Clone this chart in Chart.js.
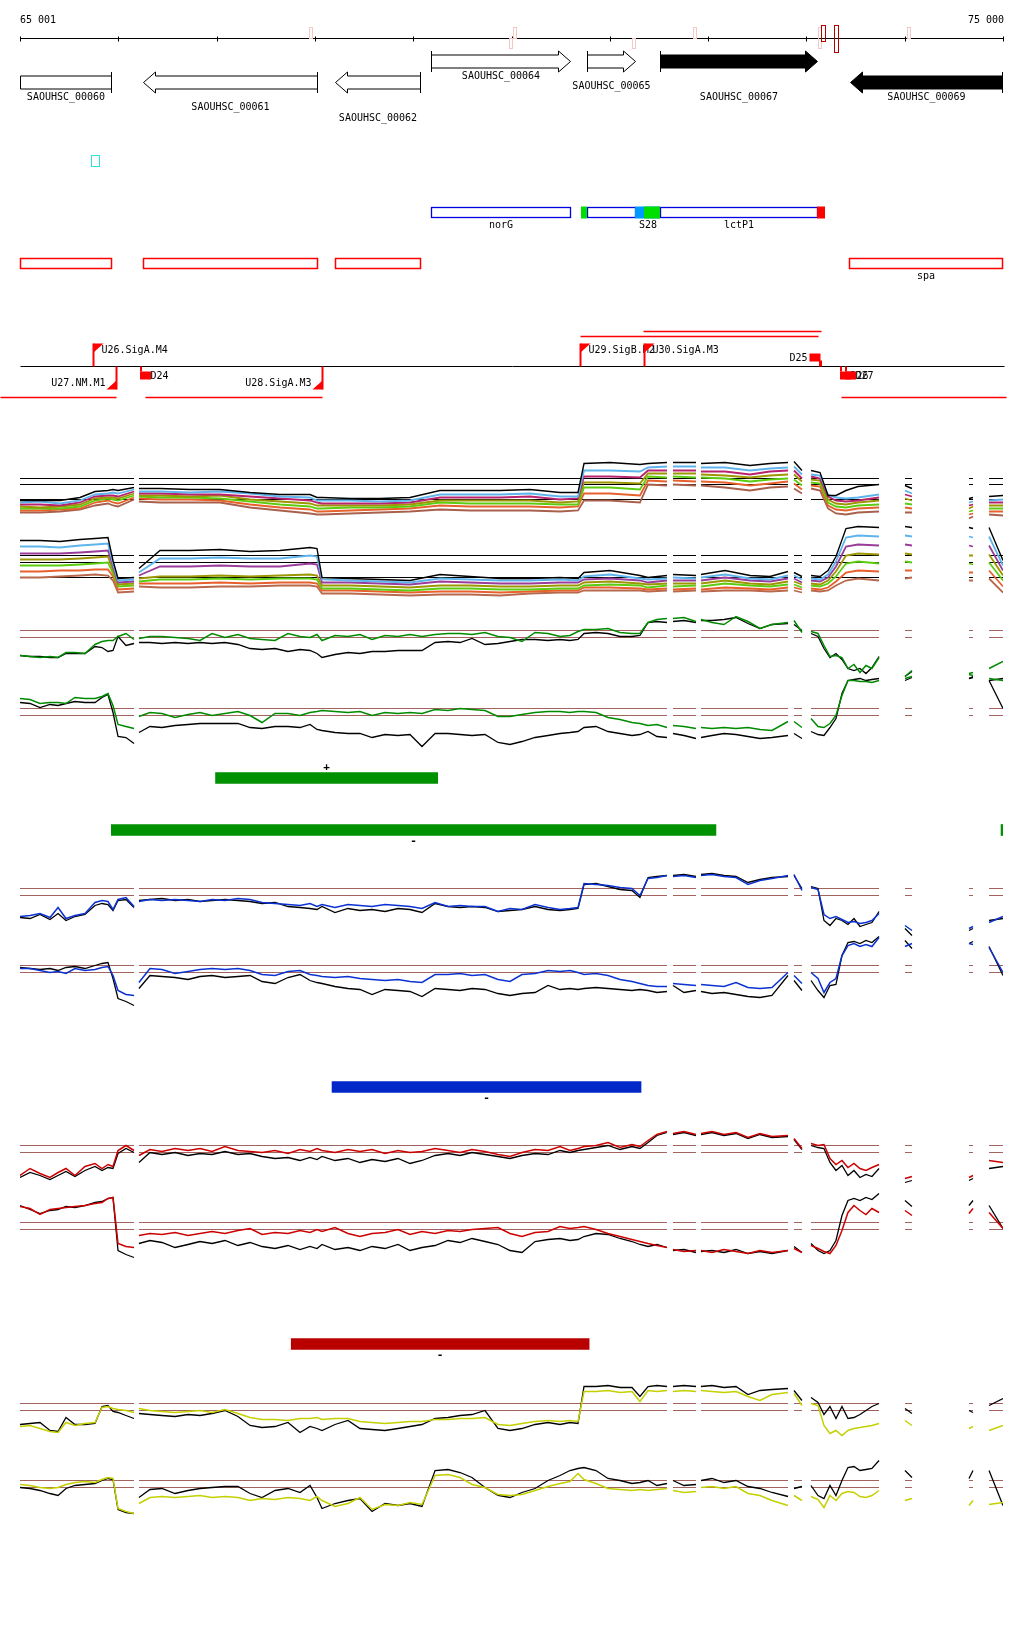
<!DOCTYPE html>
<html>
<head>
<meta charset="utf-8">
<script src="https://cdn.jsdelivr.net/npm/chart.js@4.4.1/dist/chart.umd.min.js"></script>
<style>
  body { margin: 0; background: #fff; }
  #page { position: relative; width: 1024px; height: 1640px; overflow: hidden; }
  #page canvas { position: absolute; left: 0; }
</style>
</head>
<body>
<div id="page"></div>
<script>
// ---- region and axis ----
const regionStart = 65001;
const regionEnd = 75000;
const axisTicks = [65001, 66001, 67001, 68001, 69001, 70001, 71001, 72001, 73001, 74001, 75000];
const axisLabels = ['65 001', '75 000'];

// ---- genes ----
const geneNames = ['SAOUHSC_00060', 'SAOUHSC_00061', 'SAOUHSC_00062', 'SAOUHSC_00064', 'SAOUHSC_00065', 'SAOUHSC_00067', 'SAOUHSC_00069'];
const geneStart = [64600, 66252, 68205, 69182, 70768, 71511, 73444];
const geneEnd = [65927, 68022, 69070, 70596, 71257, 73108, 74990];
const geneStrand = ['-', '-', '-', '+', '+', '+', '-'];
const geneSolid = [false, false, false, false, false, true, true];

// small marks on the coordinate axis
const axisMarkPos = [67951, 69985, 70026, 71236, 71857, 73128, 74034];
const axisMarkSide = ['up', 'down', 'up', 'down', 'up', 'both', 'up'];
const axisHitPos = [73169, 73301];

const motifStart = [65723];
const motifEnd = [65804];

// blue feature row
const featBoxStart = [69182, 70768, 71511];
const featBoxEnd = [70596, 71257, 73108];
const featBoxName = ['norG', '', 'lctP1'];
const featMarkStart = [70710, 71257, 71348, 73108];
const featMarkEnd = [70768, 71511, 71511, 73190];
const featMarkColor = ['#00dd00', '#0099ff', '#00dd00', '#ff0000'];
const featMarkName = ['', 'S28', '', ''];

// red feature row
const redBoxStart = [64600, 66252, 68205, 73434];
const redBoxEnd = [65927, 68022, 69070, 74990];
const redBoxName = ['', '', '', 'spa'];

// promoters / terminators
const tssNames = ['U26.SigA.M4', 'U27.NM.M1', 'D24', 'U28.SigA.M3', 'U29.SigB.M2', 'U30.SigA.M3', 'D25', 'D26', 'D27'];
const tssPos = [65743, 65978, 66222, 68073, 70697, 71348, 73139, 73342, 73393];
const tssStrand = ['+', '-', '-', '-', '+', '+', '+', '-', '-'];

// transcription units
const unitStart = [64798, 66272, 73352, 70697, 71338];
const unitEnd = [65978, 68073, 75031, 73118, 73149];
const unitStrand = ['-', '-', '-', '+', '+'];

// ---- segmentation blocks ----
const greenPlusBlocks = [[66990, 69250]];
const greenMinusBlocks = [[65930, 72080], [74980, 75000]];
const blueMinusBlocks = [[68175, 71318]];
const redMinusBlocks = [[67760, 70790]];

// ---- probe positions and breaks ----
const gaps = [66186, 71613, 71903, 72844, 72996, 73850, 74359, 74766];
const positions = [65001, 65204, 65408, 65611, 65764, 65896, 65947, 65998, 66161,
  66211, 66425, 66730, 67035, 67341, 67646, 67951, 68022, 68073, 68358, 68663, 68968, 69273, 69578, 69884, 70189, 70494, 70677, 70738, 71002, 71307, 71389, 71582,
  71643, 71877,
  71928, 72172, 72427, 72630, 72813,
  72874, 72955,
  73047, 73139, 73220, 73301, 73403, 73525, 73739,
  74003, 74074,
  74654, 74695,
  74858, 75000];
const densePositions = [65001, 65103, 65204, 65306, 65388, 65469, 65560, 65662, 65764, 65835, 65896, 65947, 65998, 66079, 66161,
  66211, 66323, 66445, 66578, 66710, 66832, 66954, 67086, 67218, 67341, 67463, 67595, 67727, 67849, 67951, 68022, 68073, 68205, 68337, 68459,
  68582, 68714, 68846, 68968, 69090, 69223, 69355, 69477, 69599, 69731, 69863, 69985, 70107, 70240, 70372, 70494, 70595, 70677, 70738, 70860,
  70982, 71104, 71226, 71307, 71389, 71480, 71582,
  71643, 71755, 71877,
  71928, 72040, 72162, 72284, 72406, 72528, 72650, 72813,
  72874, 72955,
  73047, 73118, 73179, 73240, 73301, 73362, 73423, 73484, 73545, 73606, 73667, 73739,
  74003, 74074,
  74654, 74695,
  74858, 75000];

// ---- all conditions, + strand ----
const mpBlack = [9.0,9.0,9.0,9.3,9.9,10.0,10.1,10.0,10.3, 10.2,10.2,10.1,10.1,9.8,9.6,9.6,9.3,9.3,9.2,9.2,9.3,10.0,10.0,10.0,10.1,9.8,9.8,12.7,12.8,12.6,12.7,12.8, 12.8,12.8, 12.7,12.8,12.5,12.7,12.8, 12.9,12.0, 12.0,11.8,9.5,9.5,10.0,10.4,10.6, 10.5,10.2, 9.2,9.3, 9.4,9.5];
const mpBlue = [8.8,8.9,8.7,9.0,9.6,9.7,9.8,9.7,10.1, 9.9,9.9,9.8,9.9,9.7,9.4,9.3,9.0,9.0,9.0,8.9,9.0,9.6,9.6,9.6,9.7,9.4,9.4,12.0,12.0,11.9,12.3,12.4, 12.4,12.4, 12.3,12.3,12.0,12.2,12.3, 12.4,11.6, 11.6,11.5,9.6,9.3,9.2,9.3,9.6, 10.0,9.7, 8.8,8.9, 9.0,9.1];
const mpMagenta = [8.6,8.6,8.5,8.8,9.4,9.5,9.5,9.4,9.9, 9.7,9.7,9.6,9.6,9.4,9.2,9.0,8.8,8.7,8.7,8.7,8.8,9.3,9.3,9.3,9.4,9.1,9.2,11.4,11.4,11.3,12.0,12.0, 12.0,12.0, 11.9,11.9,11.6,11.9,12.0, 12.0,11.2, 11.4,11.2,9.4,9.0,8.9,9.0,9.3, 9.6,9.4, 8.5,8.6, 8.8,8.8];
const mpOlive = [8.4,8.3,8.4,8.6,9.2,9.3,9.3,9.2,9.7, 9.5,9.5,9.4,9.5,9.1,8.9,8.7,8.5,8.5,8.5,8.5,8.6,9.0,9.0,9.0,9.0,8.8,8.9,10.8,10.8,10.7,11.7,11.7, 11.7,11.7, 11.6,11.5,11.3,11.5,11.6, 11.6,10.9, 11.1,11.0,9.1,8.7,8.6,8.8,9.0, 9.2,9.0, 8.2,8.4, 8.5,8.5];
const mpGreen = [8.2,8.2,8.2,8.4,9.0,9.2,9.1,9.0,9.5, 9.4,9.3,9.3,9.2,8.9,8.6,8.4,8.2,8.2,8.3,8.3,8.4,8.8,8.7,8.7,8.7,8.6,8.6,10.3,10.3,10.1,11.4,11.3, 11.4,11.3, 11.3,11.2,10.9,11.1,11.2, 11.1,10.5, 10.8,10.7,8.8,8.4,8.3,8.5,8.6, 8.7,8.6, 7.9,8.0, 8.2,8.2];
const mpOrange = [8.0,8.0,8.1,8.2,8.8,9.0,8.8,8.7,9.3, 9.2,9.1,9.1,9.0,8.6,8.3,8.1,7.9,7.9,8.0,8.1,8.2,8.5,8.4,8.4,8.4,8.3,8.4,9.7,9.7,9.5,11.0,10.9, 11.0,10.9, 10.9,10.8,10.5,10.7,10.9, 10.7,10.1, 10.5,10.4,8.5,8.1,8.0,8.2,8.3, 8.3,8.2, 7.6,7.7, 7.9,7.9];
const mpBrown = [7.8,7.8,7.9,8.1,8.5,8.7,8.5,8.4,9.1, 8.9,8.8,8.8,8.8,8.3,8.0,7.7,7.6,7.6,7.7,7.8,7.9,8.1,8.0,8.0,8.0,7.9,8.0,9.0,9.0,8.8,10.6,10.5, 10.6,10.5, 10.5,10.3,10.0,10.3,10.4, 10.2,9.7, 10.2,10.0,8.2,7.7,7.6,7.8,7.9, 7.8,7.8, 7.2,7.4, 7.6,7.5];
const multiPlusRefs = [11.2, 10.6, 9.1];

// ---- all conditions, - strand ----
const mmBlack = [11.0,11.0,10.9,11.1,11.2,11.3,9.0,7.2,7.3, 8.2,10.0,10.0,10.1,9.9,10.0,10.3,10.2,7.3,7.2,7.1,7.0,7.6,7.4,7.2,7.2,7.3,7.2,7.8,8.0,7.5,7.3,7.5, 7.6,7.5, 7.6,8.0,7.5,7.4,7.9, 7.8,7.4, 7.5,7.4,8.0,9.4,12.2,12.4,12.3, 12.4,12.3, 12.3,12.2, 12.3,9.0];
const mmBlue = [10.4,10.4,10.3,10.5,10.6,10.7,8.7,7.0,7.1, 7.8,9.2,9.2,9.3,9.2,9.2,9.5,9.4,7.1,7.0,6.9,6.8,7.2,7.1,7.0,7.0,7.1,7.0,7.4,7.6,7.2,7.1,7.2, 7.3,7.2, 7.3,7.6,7.2,7.1,7.5, 7.5,7.1, 7.2,7.1,7.6,8.9,11.3,11.5,11.4, 11.5,11.4, 11.4,11.3, 11.4,8.5];
const mmPurple = [9.7,9.7,9.7,9.8,9.9,10.0,8.4,6.8,6.9, 7.5,8.4,8.4,8.5,8.4,8.4,8.7,8.6,6.8,6.8,6.7,6.6,6.9,6.8,6.7,6.7,6.8,6.8,7.1,7.2,7.0,6.8,7.0, 7.0,7.0, 7.0,7.3,7.0,6.9,7.2, 7.2,6.8, 7.0,6.9,7.3,8.4,10.4,10.6,10.5, 10.6,10.5, 10.5,10.4, 10.5,8.0];
const mmOlive = [9.1,9.1,9.1,9.2,9.3,9.4,8.0,6.6,6.7, 7.2,7.4,7.4,7.5,7.4,7.5,7.6,7.5,6.5,6.5,6.4,6.3,6.5,6.5,6.4,6.4,6.5,6.5,6.8,6.9,6.7,6.6,6.7, 6.7,6.7, 6.7,7.0,6.7,6.6,6.9, 6.9,6.6, 6.7,6.6,7.0,7.9,9.5,9.7,9.6, 9.7,9.6, 9.5,9.5, 9.6,7.5];
const mmGreen = [8.5,8.5,8.5,8.6,8.7,8.8,7.7,6.4,6.5, 6.9,7.1,7.1,7.2,7.1,7.2,7.2,7.1,6.2,6.2,6.1,6.0,6.2,6.2,6.1,6.1,6.2,6.2,6.5,6.6,6.5,6.3,6.5, 6.4,6.5, 6.4,6.7,6.5,6.4,6.6, 6.6,6.3, 6.5,6.4,6.7,7.4,8.7,8.9,8.7, 8.9,8.8, 8.7,8.6, 8.8,7.0];
const mmOrange = [7.9,7.9,8.0,8.0,8.1,8.1,7.4,6.1,6.2, 6.7,6.7,6.7,6.8,6.7,6.8,6.8,6.7,6.0,6.0,5.9,5.8,5.9,5.9,5.8,5.9,6.0,6.0,6.3,6.3,6.2,6.1,6.2, 6.1,6.2, 6.1,6.3,6.2,6.1,6.3, 6.3,6.1, 6.2,6.1,6.3,6.9,7.8,8.0,7.9, 8.0,8.0, 7.8,7.8, 8.0,6.4];
const mmBrown = [7.3,7.3,7.4,7.5,7.6,7.5,7.0,5.8,5.9, 6.4,6.3,6.3,6.4,6.4,6.5,6.5,6.4,5.7,5.7,5.6,5.5,5.6,5.6,5.5,5.7,5.8,5.8,6.0,6.0,6.0,5.9,6.0, 5.9,6.0, 5.9,6.0,6.0,5.9,6.0, 6.0,5.8, 6.0,5.9,6.0,6.5,7.0,7.2,7.0, 7.2,7.3, 7.0,7.0, 7.2,5.8];
const multiMinusRefs = [9.5, 8.8, 7.3];

// ---- single conditions vs. reference (dense probes) ----
const greenPlus = [7.5,7.4,7.3,7.4,7.3,7.8,7.8,7.7,8.6,8.9,9.0,9.0,9.4,9.7,9.1,
  9.2,9.4,9.4,9.3,9.2,9.0,9.7,9.3,9.6,9.2,9.1,9.0,9.7,9.4,9.3,9.6,9.0,9.5,9.4,9.6,9.1,9.5,9.4,9.6,9.4,9.6,9.7,9.7,9.6,9.8,9.4,9.3,8.9,9.8,9.7,9.4,9.5,9.9,10.1,10.1,10.2,9.8,9.7,9.7,10.8,11.1,11.2,
  11.2,11.3,10.9, 11.1,10.8,10.6,11.4,10.9,10.2,10.6,10.8, 11.0,9.8,
  9.9,9.7,8.5,7.4,7.5,7.3,6.2,6.6,5.8,6.5,6.2,7.3, 5.4,6.0, 5.7,5.8, 6.2,6.9];
const greenPlusCtrl = [7.5,7.4,7.4,7.3,7.3,7.7,7.7,7.7,8.4,8.3,7.9,8.0,9.4,8.5,8.7,
  8.8,8.8,8.7,8.8,8.7,8.8,8.7,8.8,8.6,8.2,8.1,8.2,7.9,8.1,8.0,7.7,7.3,7.6,7.8,7.7,7.9,7.9,8.0,8.0,8.0,8.8,8.9,8.8,9.2,8.6,8.7,8.9,9.1,9.1,9.0,9.1,9.0,9.1,9.7,9.8,9.7,9.4,9.4,9.5,10.8,10.9,10.8,
  10.9,11.0,10.8, 11.0,11.0,11.1,11.3,10.7,10.2,10.6,10.7, 10.6,10.0,
  9.7,9.4,8.2,7.3,7.7,7.1,6.2,6.0,6.2,5.7,6.3,7.4, 5.4,5.9, 5.2,5.4, 5.0,5.2];
const greenMinus = [10.2,10.1,9.7,9.8,9.8,9.7,10.3,10.2,10.2,10.4,10.7,9.5,7.6,7.4,7.2,
  8.4,8.8,8.7,8.3,8.6,8.8,8.5,8.7,8.9,8.5,7.8,8.7,8.7,8.5,8.8,8.9,9.0,8.9,8.8,8.9,8.5,8.8,8.7,8.8,8.7,9.1,9.0,9.2,9.1,9.0,8.4,8.4,8.6,8.8,8.9,8.9,8.8,8.9,8.9,8.8,8.3,8.1,7.8,7.7,7.5,7.6,7.3,
  7.5,7.4,7.2, 7.3,7.2,7.3,7.2,7.3,7.1,7.0,7.9, 7.9,7.3,
  8.2,7.4,7.3,7.7,8.5,10.5,12.0,12.0,11.9,11.9,11.8,12.0, 12.2,12.4, 12.6,12.5, 12.2,12.0];
const greenMinusCtrl = [9.8,9.7,9.3,9.6,9.5,9.7,9.9,9.8,9.8,10.3,10.6,8.8,6.4,6.3,5.7,
  6.8,7.4,7.3,7.5,7.6,7.7,7.7,7.7,7.7,7.3,7.2,7.4,7.4,7.3,7.6,7.1,7.0,6.8,6.7,6.7,6.3,6.6,6.5,6.6,5.4,6.7,6.7,6.6,6.5,6.6,5.8,5.6,5.9,6.3,6.5,6.7,6.8,6.9,7.3,7.4,6.9,6.7,6.5,6.6,6.9,6.4,6.3,
  6.7,6.5,6.2, 6.3,6.5,6.7,6.6,6.4,6.2,6.3,6.5, 6.7,6.2,
  6.9,6.6,6.5,7.3,8.2,10.7,12.0,12.1,12.2,12.0,12.1,12.2, 12.0,12.3, 12.2,12.3, 12.0,9.2];
const greenPlusRefs = [10.0, 9.3];
const greenMinusRefs = [9.2, 8.5];

const bluePlus = [4.4,4.5,4.7,4.3,5.3,4.2,4.5,4.7,5.8,6.0,5.9,5.1,6.1,6.3,5.4,
  5.9,6.1,6.0,6.1,6.0,5.9,6.1,6.0,6.2,6.1,5.8,5.7,5.6,5.5,5.7,5.4,5.6,5.3,5.6,5.5,5.4,5.6,5.5,5.4,5.2,5.8,5.4,5.5,5.4,5.4,4.9,5.2,5.1,5.6,5.3,5.1,5.2,5.3,7.7,7.6,7.5,7.3,7.2,6.5,8.2,8.3,8.5,
  8.4,8.5,8.3, 8.5,8.6,8.4,8.3,7.6,8.0,8.2,8.5, 8.6,7.0,
  7.3,7.1,4.6,4.2,4.4,4.1,3.8,3.9,3.7,3.8,4.0,4.7, 3.5,3.0, 3.2,3.4, 3.8,4.4];
const bluePlusCtrl = [4.3,4.2,4.6,4.1,4.7,4.0,4.4,4.6,5.5,5.7,5.6,5.0,6.0,6.1,5.3,
  6.0,6.1,6.2,6.0,6.1,5.9,6.0,6.1,6.0,5.9,5.7,5.8,5.4,5.3,5.2,5.1,5.4,4.8,5.2,5.0,5.1,4.9,5.2,5.1,4.8,5.7,5.4,5.3,5.4,5.3,4.9,5.0,5.1,5.4,5.1,5.0,5.1,5.2,7.6,7.7,7.4,7.1,7.0,6.3,8.3,8.4,8.5,
  8.5,8.6,8.4, 8.6,8.7,8.5,8.4,7.8,8.1,8.3,8.4, 8.5,7.2,
  7.4,7.2,4.0,3.5,4.2,4.0,3.6,4.2,3.4,3.6,3.8,4.9, 3.2,2.5, 3.0,3.2, 4.0,4.2];
const blueMinus = [7.2,7.2,7.0,6.8,6.9,6.7,7.2,7.0,7.1,7.3,7.4,6.5,5.0,4.6,4.5,
  5.8,7.2,7.1,6.7,6.9,7.1,7.2,7.1,7.2,7.0,6.6,6.5,6.9,7.0,6.6,6.5,6.4,6.3,6.4,6.2,6.1,6.0,6.1,5.9,5.8,6.6,6.6,6.7,6.5,6.6,6.1,5.9,6.6,6.7,7.0,6.9,7.0,6.8,6.6,6.7,6.5,6.1,5.9,5.7,5.5,5.4,5.4,
  5.7,5.6,5.5, 5.6,5.5,5.4,5.8,5.3,5.2,5.3,6.8, 6.5,5.7,
  6.8,6.2,4.8,5.8,6.2,8.5,9.5,9.7,9.4,9.6,9.4,10.3, 9.4,9.7, 9.7,9.6, 9.3,6.8];
const blueMinusCtrl = [7.3,7.2,7.1,7.2,7.0,7.3,7.4,7.2,7.5,7.7,7.8,6.2,4.2,3.9,3.5,
  5.2,6.5,6.4,6.3,6.1,6.4,6.5,6.3,6.4,6.5,5.9,5.7,6.3,6.6,6.0,5.8,5.7,5.4,5.2,5.1,4.6,5.1,5.0,4.9,4.4,5.2,5.1,5.0,5.2,5.1,4.7,4.5,4.7,4.8,5.5,5.1,5.2,5.1,5.2,5.3,5.2,5.1,5.0,5.1,5.0,4.8,4.9,
  5.5,4.8,5.0, 4.9,4.7,4.8,4.6,4.4,4.3,4.5,6.5, 6.0,5.0,
  6.0,5.0,4.3,5.5,5.6,8.5,9.8,9.9,9.7,10.0,9.8,10.4, 10.0,9.2, 9.7,9.9, 9.4,6.5];
const bluePlusRefs = [7.2, 6.5];
const blueMinusRefs = [7.5, 6.8];

const redPlus = [4.5,5.2,4.7,4.3,4.8,5.2,4.5,5.4,5.7,5.2,5.6,5.4,7.0,7.5,7.0,
  6.5,7.1,6.9,7.2,7.0,7.2,6.9,7.4,7.0,6.9,6.8,7.0,6.7,7.1,6.9,7.2,7.0,6.8,7.1,6.9,7.1,6.7,7.0,6.8,6.9,7.2,7.0,6.8,7.1,6.9,6.6,6.4,6.8,7.1,7.0,7.4,7.0,7.2,7.4,7.5,7.8,7.3,7.6,7.4,8.0,8.6,8.9,
  8.7,8.9,8.6, 8.7,8.9,8.6,8.8,8.3,8.7,8.4,8.5, 8.2,7.2,
  7.7,7.5,7.6,6.2,5.6,6.0,5.3,5.7,5.2,5.0,5.3,5.6, 4.2,4.4, 4.3,4.5, 6.0,5.8];
const redPlusCtrl = [4.3,4.8,4.5,4.1,4.5,4.9,4.4,5.0,5.4,5.0,5.3,5.2,6.7,7.2,6.8,
  5.8,6.8,6.6,6.8,6.5,6.7,6.6,6.9,6.6,6.7,6.4,6.2,6.3,6.0,6.3,6.1,6.4,6.0,6.2,5.8,6.1,5.9,6.2,5.7,6.0,6.5,6.7,6.5,6.8,6.6,6.4,6.2,6.5,6.7,6.6,7.0,6.8,7.0,7.1,7.3,7.5,7.1,7.4,7.2,7.8,8.5,8.8,
  8.6,8.8,8.5, 8.6,8.8,8.5,8.7,8.2,8.6,8.3,8.4, 8.1,7.1,
  7.5,7.3,7.2,5.8,5.0,5.5,4.5,5.0,4.3,4.6,4.4,5.2, 3.8,4.0, 4.0,4.2, 5.2,5.4];
const redMinus = [9.4,9.2,8.6,9.1,9.2,9.3,9.4,9.5,9.7,9.8,10.2,10.3,5.7,5.4,5.3,
  6.5,6.7,6.6,6.8,6.5,6.7,6.9,6.7,7.0,7.2,6.6,6.8,6.7,7.0,6.8,7.1,6.9,7.3,6.7,6.4,6.7,6.8,7.1,6.6,6.9,6.7,7.0,6.9,7.1,7.2,7.3,6.7,6.4,6.8,6.9,7.4,7.2,7.3,7.4,7.1,6.7,6.4,6.1,5.9,5.7,5.5,5.3,
  5.1,4.9,5.0, 5.0,4.8,5.1,4.9,4.7,5.0,4.8,5.0, 5.2,4.8,
  5.5,5.2,4.9,4.7,5.5,7.0,8.8,9.5,9.0,8.6,9.2,8.8, 9.0,8.5, 8.7,9.2, 8.8,7.2];
const redMinusCtrl = [9.5,9.1,8.7,9.0,9.1,9.4,9.3,9.5,9.8,9.9,10.2,10.3,5.0,4.6,4.3,
  5.7,6.0,5.8,5.3,5.6,5.9,5.7,6.0,5.5,5.8,5.4,5.2,5.5,5.1,5.4,5.2,5.6,5.1,5.3,5.0,5.4,5.2,5.6,5.0,5.3,5.5,6.0,5.8,6.2,5.9,5.6,5.0,4.8,5.9,6.1,6.2,6.0,6.1,6.4,6.7,6.6,6.2,5.9,5.6,5.4,5.6,5.3,
  5.0,5.1,4.8, 4.9,5.0,4.8,5.1,4.7,4.9,4.7,5.0, 5.4,4.8,
  5.7,5.0,4.7,5.0,6.0,8.5,10.0,10.2,10.0,10.3,10.1,10.7, 10.0,9.4, 9.5,10.0, 9.5,7.2];
const redPlusRefs = [7.5, 6.8];
const redMinusRefs = [7.8, 7.1];

const yellowPlus = [4.4,4.5,4.2,3.9,3.8,4.8,4.5,4.7,4.8,6.3,6.4,6.2,6.1,6.0,5.8,
  6.2,6.0,5.9,5.8,5.9,6.0,5.8,6.1,5.7,5.3,5.1,5.1,5.0,5.2,5.2,5.3,5.1,5.2,5.2,4.9,4.8,4.7,4.8,4.9,4.9,5.1,5.1,5.2,5.2,5.3,4.6,4.5,4.7,4.9,5.0,4.9,5.0,4.9,7.9,7.9,8.0,7.8,7.9,6.9,8.0,7.9,8.0,
  7.9,8.0,7.9, 8.0,7.9,7.8,7.9,7.4,7.0,7.6,7.8, 7.7,6.5,
  6.7,6.5,4.5,3.7,4.0,3.5,4.0,4.2,4.3,4.4,4.5,4.7, 5.0,4.5, 4.2,4.4, 4.0,4.5];
const yellowPlusCtrl = [4.6,4.7,4.8,4.0,3.9,5.3,4.6,4.6,4.7,6.4,6.5,5.9,5.8,5.5,5.2,
  5.7,5.6,5.5,5.4,5.6,5.5,5.7,6.0,5.4,4.5,4.3,4.4,4.8,3.8,4.4,4.2,4.0,4.6,5.0,4.2,4.1,4.0,4.2,4.4,4.6,5.2,5.3,5.5,5.6,6.0,4.2,4.0,4.2,4.6,4.8,4.6,4.8,4.7,8.4,8.4,8.5,8.3,8.3,7.4,8.4,8.5,8.4,
  8.4,8.5,8.4, 8.4,8.5,8.3,8.4,7.6,8.0,8.1,8.2, 8.0,7.0,
  7.3,6.8,5.6,6.4,5.2,6.4,5.2,5.3,5.6,6.0,6.4,6.7, 6.2,5.7, 6.0,5.8, 6.5,7.2];
const yellowMinus = [6.6,6.5,6.3,6.2,6.3,6.6,6.8,6.9,6.8,7.1,7.3,7.2,4.2,3.9,3.7,
  4.7,5.3,5.4,5.3,5.4,5.5,5.3,5.4,5.3,5.0,5.2,5.1,5.3,5.2,5.0,5.4,5.0,4.4,4.7,5.3,4.1,4.6,4.5,4.8,4.6,7.5,7.6,7.3,6.6,6.3,5.6,5.5,5.6,6.0,6.4,6.7,6.9,7.7,7.1,6.7,6.2,6.1,6.0,6.1,6.0,6.1,6.2,
  6.0,5.8,5.9, 6.3,6.4,6.2,6.4,5.7,5.5,5.0,4.5, 5.5,5.0,
  5.4,5.1,4.3,5.5,5.0,5.7,5.9,5.8,5.4,5.3,5.5,6.0, 5.0,5.2, 4.5,5.0, 4.6,4.8];
const yellowMinusCtrl = [6.3,6.2,6.0,5.7,5.5,6.2,6.5,6.6,6.7,7.0,7.2,7.1,4.1,3.8,3.7,
  5.3,6.1,6.2,5.7,6.0,6.2,6.3,6.4,6.4,5.7,5.3,6.0,6.2,5.8,6.5,5.3,4.2,4.7,5.0,5.2,3.9,4.7,4.5,4.7,4.4,8.0,8.1,7.8,7.3,6.3,5.5,5.3,5.8,6.2,7.0,7.5,8.0,8.2,8.3,8.0,7.2,7.0,6.7,6.8,7.0,6.5,6.7,
  7.0,6.5,6.6, 7.0,7.2,6.8,7.0,6.4,6.2,5.8,5.4, 6.2,6.4,
  6.5,5.5,5.2,6.5,5.5,7.0,8.3,8.4,8.0,8.1,8.2,9.0, 8.0,7.3, 7.2,8.0, 8.0,4.5];
const yellowPlusRefs = [6.7, 6.0];
const yellowMinusRefs = [7.0, 6.3];

// ---------------------------------------------------------------------------
const page = document.getElementById('page');
const font = '10px "DejaVu Sans Mono", monospace';
const refBrown = '#a2625e';
const badLengths = [];

function addCanvas(top, height) {
  const c = document.createElement('canvas');
  c.width = 1024;
  c.height = height;
  c.style.top = top + 'px';
  page.appendChild(c);
  return c;
}

const xScale = { type: 'linear', min: regionStart, max: regionEnd, display: false };

function baseOptions(yMin, yMax) {
  return {
    responsive: false,
    animation: false,
    devicePixelRatio: 1,
    events: [],
    layout: { padding: { left: 20, right: 21, top: 0, bottom: 0 } },
    plugins: { legend: { display: false }, tooltip: { enabled: false } },
    scales: {
      x: xScale,
      y: { type: 'linear', min: yMin, max: yMax, display: false }
    }
  };
}

// stretches of probes between breaks
const segments = [];
densePositions.forEach(p => {
  const last = segments[segments.length - 1];
  if (!last || gaps.some(g => g > last[1] && g < p)) segments.push([p, p]);
  else last[1] = p;
});

function toPoints(xs, values, name) {
  if (values.length !== xs.length) badLengths.push(name + ':' + values.length);
  const pts = xs.map((x, i) => ({ x, y: values[i] }));
  gaps.forEach(g => pts.push({ x: g, y: null }));
  return pts.sort((a, b) => a.x - b.x);
}

function refPoints(v) {
  return segments.flatMap(s => [{ x: s[0], y: v }, { x: s[1], y: v }, { x: s[1] + 1, y: null }]);
}

function lineTrack(top, height, yMin, xs, series, refs, refColor) {
  const datasets = series.map(s => ({
    data: toPoints(xs, s[0], s[3]),
    borderColor: s[1],
    borderWidth: s[2],
    pointRadius: 0,
    tension: 0,
    spanGaps: false
  }));
  refs.forEach(v => datasets.push({
    data: refPoints(v), borderColor: refColor, borderWidth: 1, pointRadius: 0, spanGaps: false
  }));
  // +0.05 puts the one-decimal values on pixel centres
  const lo = yMin + 0.05;
  new Chart(addCanvas(top, height), {
    type: 'line',
    data: { datasets },
    options: baseOptions(lo, lo + height / 10)
  });
}

const strandSign = {
  id: 'strandSign',
  afterDatasetsDraw(chart) {
    const bar = chart.getDatasetMeta(0).data[0];
    const sign = chart.data.labels[0];
    const ctx = chart.ctx;
    ctx.save();
    ctx.font = 'bold 11px "DejaVu Sans Mono", monospace';
    ctx.fillStyle = '#000';
    ctx.textAlign = 'center';
    ctx.textBaseline = 'middle';
    ctx.fillText(sign, (bar.x + bar.base) / 2, bar.y + (sign === '+' ? -11 : 11));
    ctx.restore();
  }
};

function blockTrack(center, blocks, color, sign) {
  const opts = baseOptions(0, 1);
  opts.indexAxis = 'y';
  opts.scales = { x: xScale, y: { type: 'category', display: false } };
  new Chart(addCanvas(center - 20, 40), {
    type: 'bar',
    data: {
      labels: [sign],
      datasets: blocks.map(b => ({ data: [b], backgroundColor: color, barThickness: 11, grouped: false }))
    },
    options: opts,
    plugins: [strandSign]
  });
}

// ---- annotation tracks (top of the page) ----
const rows = {
  axisY: 38.5, geneUpY: 61.5, geneDownY: 82.5, motifY: 155.5, blueY: 207.5, redY: 258.5,
  tssY: 366.5, unitPlusY: [336.5, 331.5], unitMinusY: 397.5
};
const geneLabelLevel = [0, 1, 2, 0, 1, 2, 0];

const annotations = {
  id: 'annotations',
  afterDraw(chart) {
    const ctx = chart.ctx;
    const xs = chart.scales.x;
    const X = v => Math.round(xs.getPixelForValue(v)) + 0.5;
    const clipX = v => X(Math.min(Math.max(v, regionStart), regionEnd));
    ctx.save();
    ctx.font = font;
    ctx.textBaseline = 'middle';
    ctx.lineWidth = 1;

    // coordinate axis
    ctx.strokeStyle = '#000';
    ctx.beginPath();
    ctx.moveTo(X(regionStart), rows.axisY);
    ctx.lineTo(X(regionEnd), rows.axisY);
    axisTicks.forEach(t => { ctx.moveTo(X(t), rows.axisY - 2); ctx.lineTo(X(t), rows.axisY + 3); });
    ctx.stroke();
    ctx.fillStyle = '#000';
    ctx.textAlign = 'left';
    ctx.fillText(axisLabels[0], X(regionStart) - 0.5, 20);
    ctx.textAlign = 'right';
    ctx.fillText(axisLabels[1], X(regionEnd) + 0.5, 20);

    ctx.strokeStyle = '#f4c8c4';
    axisMarkPos.forEach((p, i) => {
      const side = axisMarkSide[i];
      const y0 = side === 'down' ? rows.axisY : rows.axisY - 11;
      const y1 = side === 'up' ? rows.axisY : rows.axisY + 10;
      ctx.strokeRect(X(p) - 1, y0, 3, y1 - y0);
    });
    ctx.strokeStyle = '#b00000';
    axisHitPos.forEach((p, i) => {
      ctx.strokeRect(X(p) - 2, rows.axisY - 13, 4, i === 0 ? 16 : 27);
    });

    // genes
    geneNames.forEach((name, i) => {
      const plus = geneStrand[i] === '+';
      const yc = plus ? rows.geneUpY : rows.geneDownY;
      const x0 = clipX(geneStart[i]);
      const x1 = clipX(geneEnd[i]);
      const startIn = geneStart[i] >= regionStart;
      const endIn = geneEnd[i] <= regionEnd;
      const tip = plus ? x1 : x0;
      const tail = plus ? x0 : x1;
      const dir = plus ? 1 : -1;
      const hasHead = plus ? endIn : startIn;
      const hasTail = plus ? startIn : endIn;
      const hb = hasHead ? tip - dir * 12 : tip;
      ctx.beginPath();
      ctx.moveTo(tail, yc - 6.5);
      ctx.lineTo(hb, yc - 6.5);
      if (hasHead) {
        ctx.lineTo(hb, yc - 10.5);
        ctx.lineTo(tip, yc);
        ctx.lineTo(hb, yc + 10.5);
      }
      ctx.lineTo(hb, yc + 6.5);
      ctx.lineTo(tail, yc + 6.5);
      ctx.closePath();
      ctx.fillStyle = geneSolid[i] ? '#000' : '#fff';
      ctx.fill();
      ctx.strokeStyle = '#000';
      ctx.stroke();
      if (hasTail) {
        ctx.beginPath();
        ctx.moveTo(tail, yc - 10.5);
        ctx.lineTo(tail, yc + 10.5);
        ctx.stroke();
      }
      ctx.fillStyle = '#000';
      ctx.textAlign = 'center';
      ctx.fillText(name, (x0 + x1) / 2, yc + 14.5 + geneLabelLevel[i] * 10.5);
    });

    // motif hit
    ctx.strokeStyle = '#30e0e0';
    motifStart.forEach((s, i) => ctx.strokeRect(X(s), rows.motifY, X(motifEnd[i]) - X(s), 11));

    // blue features
    ctx.strokeStyle = '#0000e0';
    ctx.lineWidth = 1.3;
    featBoxStart.forEach((s, i) => ctx.strokeRect(X(s), rows.blueY, X(featBoxEnd[i]) - X(s), 10));
    featMarkStart.forEach((s, i) => {
      ctx.fillStyle = featMarkColor[i];
      ctx.fillRect(X(s) - 0.5, rows.blueY - 1, X(featMarkEnd[i]) - X(s), 12);
    });
    ctx.fillStyle = '#000';
    ctx.textAlign = 'center';
    featBoxStart.forEach((s, i) => ctx.fillText(featBoxName[i], (X(s) + X(featBoxEnd[i])) / 2, rows.blueY + 17.5));
    featMarkStart.forEach((s, i) => ctx.fillText(featMarkName[i], (X(s) + X(featMarkEnd[i])) / 2, rows.blueY + 17.5));

    // red features
    ctx.strokeStyle = '#ff0000';
    ctx.lineWidth = 1.5;
    redBoxStart.forEach((s, i) => {
      const a = clipX(s), b = clipX(redBoxEnd[i]);
      ctx.strokeRect(a, rows.redY, b - a, 10);
      ctx.fillText(redBoxName[i], (a + b) / 2, rows.redY + 17.5);
    });

    // transcription units
    ctx.lineWidth = 1.5;
    const plusEnds = [];
    unitStart.forEach((s, i) => {
      let y = rows.unitMinusY;
      if (unitStrand[i] === '+') {
        let lvl = plusEnds.findIndex(e => e < s);
        if (lvl < 0) { lvl = plusEnds.length; plusEnds.push(0); }
        plusEnds[lvl] = unitEnd[i];
        y = rows.unitPlusY[lvl];
      }
      ctx.beginPath();
      ctx.moveTo(X(s), y);
      ctx.lineTo(X(unitEnd[i]), y);
      ctx.stroke();
    });

    // promoters and terminators
    ctx.lineWidth = 1;
    ctx.strokeStyle = '#000';
    ctx.beginPath();
    ctx.moveTo(X(regionStart), rows.tssY);
    ctx.lineTo(X(regionEnd) + 1, rows.tssY);
    ctx.stroke();
    const ty = rows.tssY;
    tssNames.forEach((name, i) => {
      const x = X(tssPos[i]);
      const plus = tssStrand[i] === '+';
      ctx.fillStyle = '#ff0000';
      ctx.strokeStyle = '#ff0000';
      ctx.lineWidth = 2;
      if (name[0] === 'U') {
        const end = plus ? ty - 23 : ty + 23;
        ctx.beginPath();
        ctx.moveTo(x, ty);
        ctx.lineTo(x, end);
        ctx.stroke();
        ctx.beginPath();
        if (plus) {
          ctx.moveTo(x, end); ctx.lineTo(x + 10, end); ctx.lineTo(x, end + 9);
        } else {
          ctx.moveTo(x, end); ctx.lineTo(x - 10, end); ctx.lineTo(x, end - 9);
        }
        ctx.closePath();
        ctx.fill();
        ctx.fillStyle = '#000';
        ctx.textAlign = plus ? 'left' : 'right';
        ctx.fillText(name, plus ? x + 8 : x - 11, plus ? ty - 16 : ty + 17);
      } else {
        if (plus) {
          ctx.fillRect(x - 11, ty - 13, 11, 8);
          ctx.fillRect(x - 1.5, ty - 6, 3, 6);
          ctx.fillStyle = '#000';
          ctx.textAlign = 'right';
          ctx.fillText(name, x - 13, ty - 8);
        } else {
          ctx.fillRect(x - 0.5, ty, 2, 5);
          ctx.fillRect(x - 0.5, ty + 5, 11, 8);
          ctx.fillStyle = '#000';
          ctx.textAlign = 'left';
          ctx.fillText(name, x + 10, ty + 10);
        }
      }
    });
    ctx.restore();
  }
};

new Chart(addCanvas(0, 410), {
  type: 'scatter',
  data: { datasets: [] },
  options: baseOptions(0, 1),
  plugins: [annotations]
});

// ---- expression tracks ----
lineTrack(450, 80, 6.0, positions, [
  [mpBlack, '#000000', 1.4, 'mpBlack'], [mpBlue, '#5fb4ee', 1.8, 'mpBlue'], [mpMagenta, '#b8226e', 1.8, 'mpMagenta'],
  [mpOlive, '#9c9600', 1.8, 'mpOlive'], [mpGreen, '#5ccc10', 1.8, 'mpGreen'], [mpOrange, '#e8602c', 1.8, 'mpOrange'],
  [mpBrown, '#a8604c', 1.8, 'mpBrown']
], multiPlusRefs, '#000000');

lineTrack(515, 90, 4.5, positions, [
  [mmBlack, '#000000', 1.4, 'mmBlack'], [mmBlue, '#5fb4ee', 1.8, 'mmBlue'], [mmPurple, '#9a3c9a', 1.8, 'mmPurple'],
  [mmOlive, '#9c9600', 1.8, 'mmOlive'], [mmGreen, '#5ccc10', 1.8, 'mmGreen'], [mmOrange, '#e8602c', 1.8, 'mmOrange'],
  [mmBrown, '#b8684c', 1.8, 'mmBrown']
], multiMinusRefs, '#000000');

lineTrack(600, 100, 3.0, densePositions, [[greenPlus, '#008a00', 1.5, 'greenPlus'], [greenPlusCtrl, '#000000', 1.3, 'greenPlusCtrl']], greenPlusRefs, refBrown);
lineTrack(670, 90, 4.0, densePositions, [[greenMinus, '#008a00', 1.5, 'greenMinus'], [greenMinusCtrl, '#000000', 1.3, 'greenMinusCtrl']], greenMinusRefs, refBrown);
blockTrack(778, greenPlusBlocks, '#009100', '+');
blockTrack(830, greenMinusBlocks, '#009100', '-');

lineTrack(860, 80, 2.0, densePositions, [[bluePlus, '#0a32d2', 1.5, 'bluePlus'], [bluePlusCtrl, '#000000', 1.3, 'bluePlusCtrl']], bluePlusRefs, refBrown);
lineTrack(925, 90, 2.5, densePositions, [[blueMinus, '#0a32d2', 1.5, 'blueMinus'], [blueMinusCtrl, '#000000', 1.3, 'blueMinusCtrl']], blueMinusRefs, refBrown);
blockTrack(1087, blueMinusBlocks, '#0028c8', '-');

lineTrack(1110, 80, 3.0, densePositions, [[redPlus, '#cc0000', 1.5, 'redPlus'], [redPlusCtrl, '#000000', 1.3, 'redPlusCtrl']], redPlusRefs, refBrown);
lineTrack(1185, 80, 3.5, densePositions, [[redMinus, '#cc0000', 1.5, 'redMinus'], [redMinusCtrl, '#000000', 1.3, 'redMinusCtrl']], redMinusRefs, refBrown);
blockTrack(1344, redMinusBlocks, '#b80000', '-');

lineTrack(1370, 80, 2.0, densePositions, [[yellowPlus, '#c4d000', 1.5, 'yellowPlus'], [yellowPlusCtrl, '#000000', 1.3, 'yellowPlusCtrl']], yellowPlusRefs, refBrown);
lineTrack(1450, 80, 2.0, densePositions, [[yellowMinus, '#c4d000', 1.5, 'yellowMinus'], [yellowMinusCtrl, '#000000', 1.3, 'yellowMinusCtrl']], yellowMinusRefs, refBrown);

if (densePositions.length !== 93) badLengths.push('densePositions:' + densePositions.length);
if (badLengths.length) throw new Error('series length mismatch: ' + badLengths.join(', '));
</script>
</body>
</html>
